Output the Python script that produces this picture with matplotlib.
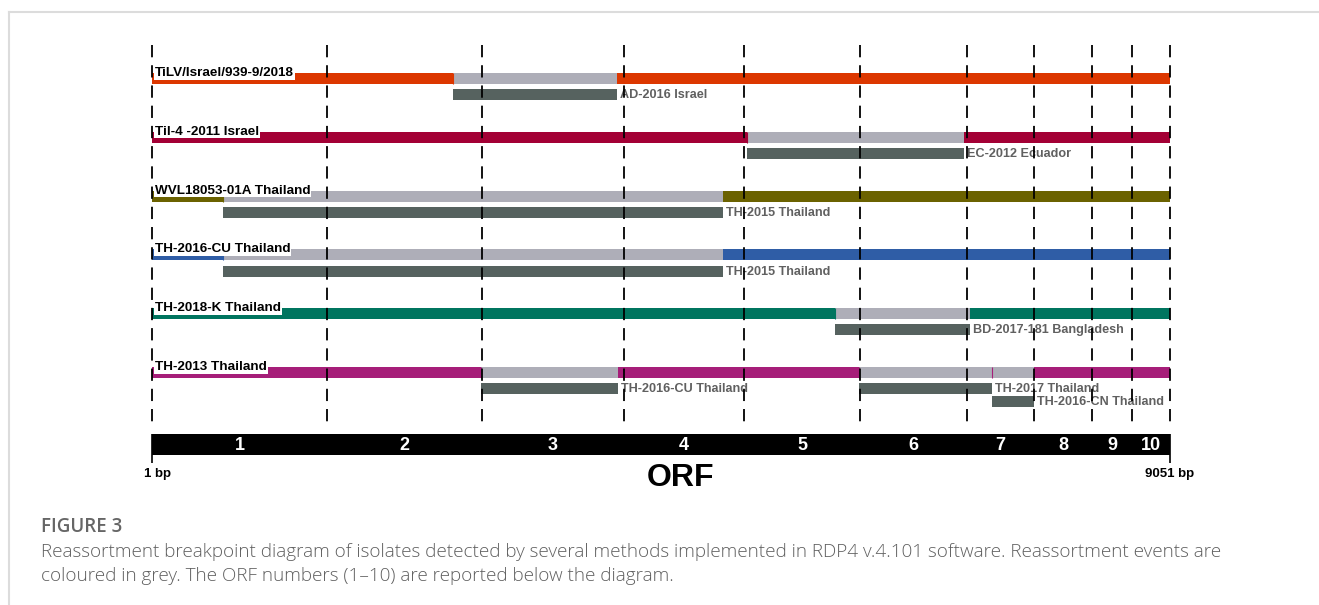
import matplotlib
matplotlib.use('Agg')
import matplotlib.pyplot as plt
from matplotlib.lines import Line2D
import numpy as np

plt.rcParams['font.family'] = ['Liberation Sans', 'DejaVu Sans']

# ---------------- data ----------------
genome_len = 9051
orf_names = ['1', '2', '3', '4', '5', '6', '7', '8', '9', '10']
orf_bounds = [1, 1557, 2935, 4197, 5264, 6295, 7246, 7842, 8358, 8713, 9051]

strains = ['TiLV/Israel/939-9/2018', 'Til-4 -2011 Israel', 'WVL18053-01A Thailand',
           'TH-2016-CU Thailand', 'TH-2018-K Thailand', 'TH-2013 Thailand']

# reassortment events: row, start bp, end bp, parent label, stacking level
ev_row   = [0, 1, 2, 3, 4, 5, 5, 5]
ev_start = [2677, 5291, 632, 632, 6073, 2926, 6286, 7469]
ev_end   = [4135, 7220, 5077, 5077, 7273, 4144, 7469, 7842]
ev_label = ['AD-2016 Israel', 'EC-2012 Ecuador', 'TH-2015 Thailand', 'TH-2015 Thailand',
            'BD-2017-181 Bangladesh', 'TH-2016-CU Thailand', 'TH-2017 Thailand',
            'TH-2016-CN Thailand']
ev_level = [0, 0, 0, 0, 0, 0, 0, 1]

# ---------------- styles ----------------
colours = ['#DC3700', '#A30035', '#6B6200', '#2F5DA6', '#00755F', '#A61E79']
grey = '#AEAEB8'
dark = '#56625F'

W, H = 1319, 605
x0_px, x1_px = 152, 1170
ppb = (x1_px - x0_px) / (genome_len - 1)   # pixels per bp

fig = plt.figure(figsize=(W / 100, H / 100), dpi=100)
ax = fig.add_axes([0, 0, 1, 1])
ax.set_xlim(1 - x0_px / ppb, 1 + (W - x0_px) / ppb)
ax.set_ylim(H, 0)
ax.axis('off')

row0, row_step, bar_h = 78.5, 58.8, 11
gap = 3 / ppb

# genome bars
for i, (name, col) in enumerate(zip(strains, colours)):
    y = row0 + i * row_step
    ax.barh(y, genome_len - 1, left=1, height=bar_h, color=col, zorder=2)
    ax.text(1 + gap, y - 2.5, name, fontsize=9.7, fontweight='bold', color='black',
            va='baseline', ha='left', zorder=5,
            bbox=dict(boxstyle='square,pad=0.05', fc='white', ec='none'))

# events
for r, s, e, lab, lvl in zip(ev_row, ev_start, ev_end, ev_label, ev_level):
    y = row0 + r * row_step
    ax.barh(y, e - s, left=s, height=bar_h, color=grey, zorder=2.5)
    ax.vlines(s, y - bar_h / 2, y + bar_h / 2, color=colours[r], lw=0.8, zorder=2.6)
    ey = y + 16.2 + lvl * 12.8
    ax.barh(ey, e - s, left=s, height=bar_h, color=dark, zorder=2.5)
    ax.text(e + gap, ey + 0.5, lab, fontsize=9.1, fontweight='bold', color='#606060',
            va='center', ha='left', zorder=3)

# ORF boundaries
ax.vlines(orf_bounds, 45, 428, colors='black', lw=1.3,
          linestyles=(0, (6.8, 4.4)), zorder=4)

# ORF bar
ax.barh(444.5, genome_len - 1, left=1, height=21, color='black', zorder=2)
mids = [(a + b) / 2 for a, b in zip(orf_bounds[:-1], orf_bounds[1:])]
for m, n in zip(mids, orf_names):
    ax.text(m, 445, n, color='white', fontsize=13, fontweight='bold',
            ha='center', va='center', zorder=3)
ax.vlines([1, genome_len], 434, 463, colors='black', lw=1.2, zorder=3)
ax.text(1 + 6 / ppb, 474, '1 bp', fontsize=9.5, fontweight='bold', ha='center', va='center')
ax.text(genome_len, 474, f'{genome_len} bp', fontsize=9.5, fontweight='bold',
        ha='center', va='center')
ax.text(1 + (680 - x0_px) / ppb, 478, 'ORF', fontsize=23, fontweight='bold',
        ha='center', va='center')

# frame + caption
fx, fy = 9 / W, 1 - 12 / H
fig.add_artist(Line2D([fx, 1], [fy, fy], color='#dcdcdc', lw=1.5, transform=fig.transFigure))
fig.add_artist(Line2D([fx, fx], [fy, 0], color='#dcdcdc', lw=1.5, transform=fig.transFigure))

cap_font = ['Open Sans', 'DejaVu Sans']
fig.text(41 / W, 1 - 527 / H, 'FIGURE 3', family=cap_font, fontsize=13.5,
         fontweight='semibold', color='#666666', va='center', ha='left')
fig.text(41 / W, 1 - 552 / H,
         'Reassortment breakpoint diagram of isolates detected by several methods '
         'implemented in RDP4 v.4.101 software. Reassortment events are',
         family=cap_font, fontsize=13.6, fontweight='light', color='#5f5f5f',
         va='center', ha='left')
fig.text(41 / W, 1 - 576 / H,
         'coloured in grey. The ORF numbers (1\u201310) are reported below the diagram.',
         family=cap_font, fontsize=13.6, fontweight='light', color='#5f5f5f',
         va='center', ha='left')

fig.savefig('out.png', dpi=100)
